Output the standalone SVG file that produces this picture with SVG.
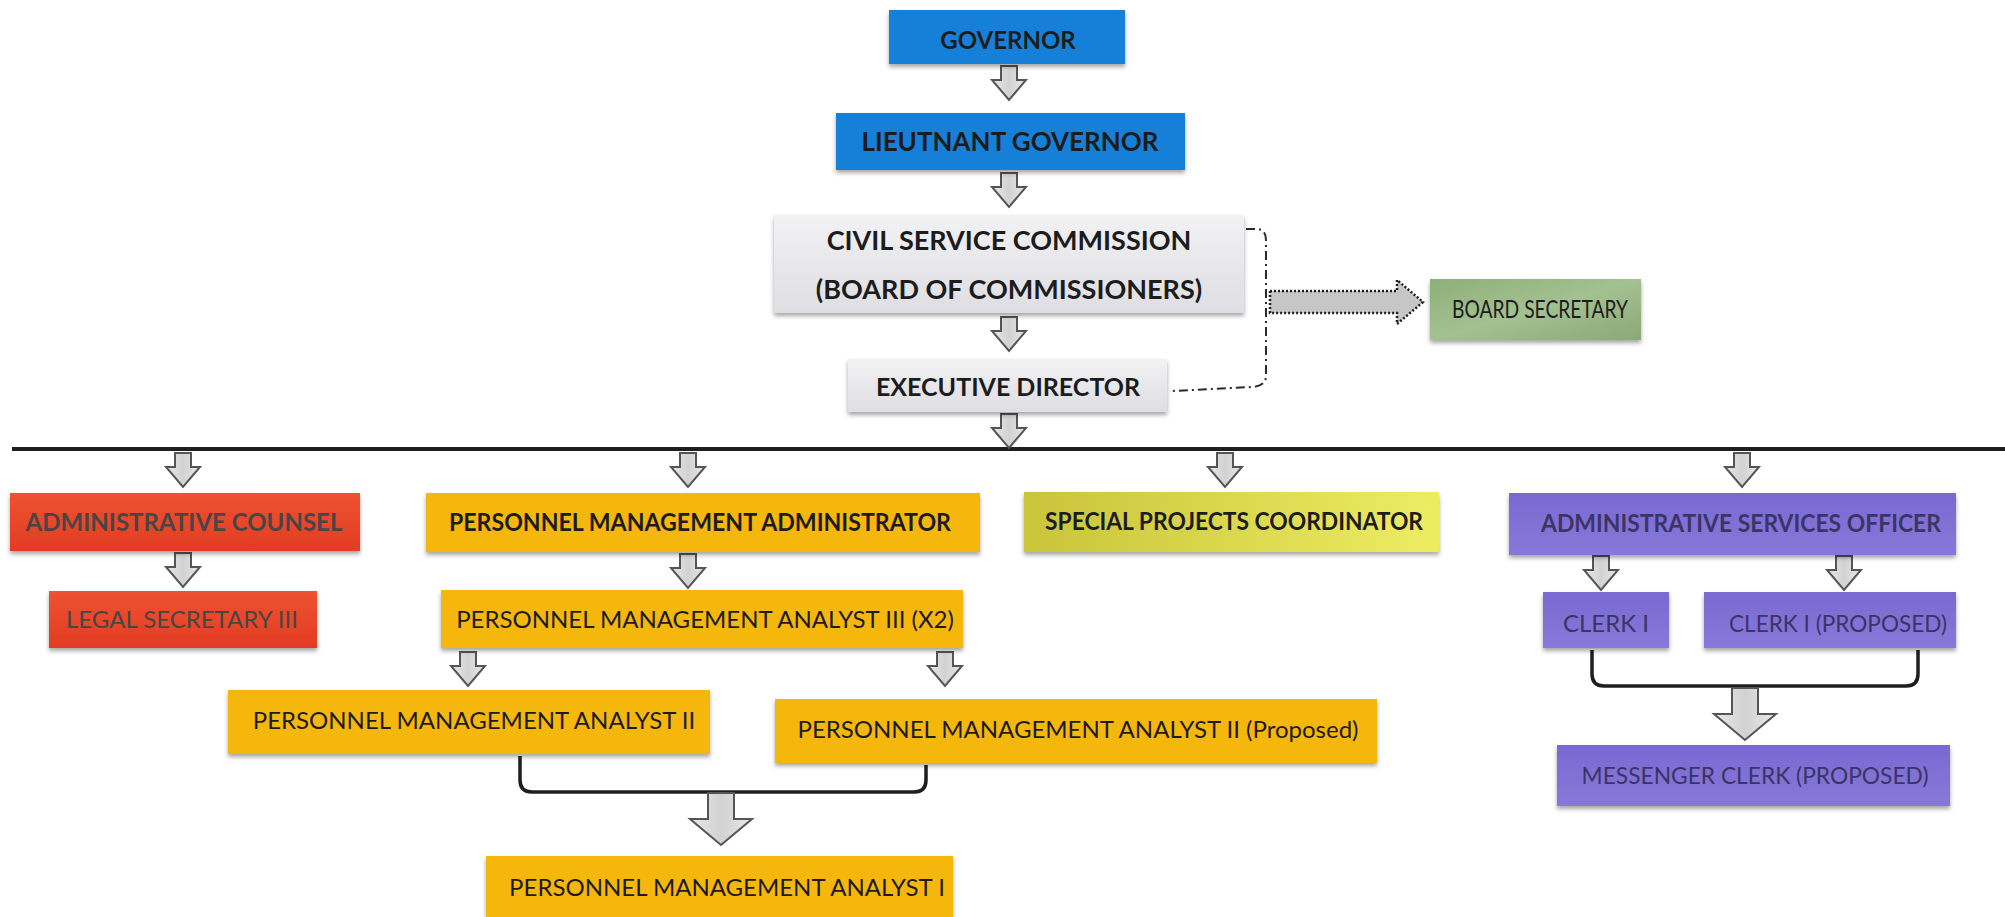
<svg xmlns="http://www.w3.org/2000/svg" xmlns:xlink="http://www.w3.org/1999/xlink" width="2005" height="917" viewBox="0 0 2005 917">
<defs>
  <style>
    .t { font-family: Lato, "Open Sans", "Liberation Sans", sans-serif; font-size: 24px; text-anchor: middle; fill: #1c1c1c; }
    .b { font-weight: bold; }
    .r { font-weight: normal; }
    .dim { fill: #4a4444; }
    .pur { fill: #3b3466; }
    .arr { fill: url(#gArr); stroke: #555; stroke-width: 2; }
    .brk { fill: none; stroke: #1e1e1e; stroke-width: 3.5; stroke-linejoin: round; }
    .box { filter: url(#sh); }
  </style>
  <filter id="sh" x="-5%" y="-10%" width="110%" height="140%">
    <feDropShadow dx="0" dy="3" stdDeviation="2" flood-color="#000" flood-opacity="0.35"/>
  </filter>
  <linearGradient id="gArr" x1="0" y1="0" x2="1" y2="0">
    <stop offset="0" stop-color="#e8e8e8"/>
    <stop offset="0.5" stop-color="#d2d2d2"/>
    <stop offset="1" stop-color="#e8e8e8"/>
  </linearGradient>
  <linearGradient id="gGray" x1="0" y1="0" x2="0" y2="1">
    <stop offset="0" stop-color="#f2f2f4"/>
    <stop offset="1" stop-color="#dedee3"/>
  </linearGradient>
  <linearGradient id="gGreen" x1="0" y1="0" x2="1" y2="1">
    <stop offset="0" stop-color="#8daf78"/>
    <stop offset="0.5" stop-color="#a4c191"/>
    <stop offset="1" stop-color="#8aa976"/>
  </linearGradient>
  <linearGradient id="gRed" x1="0" y1="0" x2="0" y2="1">
    <stop offset="0" stop-color="#ee5230"/>
    <stop offset="1" stop-color="#e23c24"/>
  </linearGradient>
  <linearGradient id="gYel" x1="0" y1="0" x2="1" y2="0">
    <stop offset="0" stop-color="#c9c43a"/>
    <stop offset="1" stop-color="#eeec62"/>
  </linearGradient>
  <linearGradient id="gPur" x1="0" y1="0" x2="0" y2="1">
    <stop offset="0" stop-color="#7a69d2"/>
    <stop offset="1" stop-color="#8878d8"/>
  </linearGradient>
  <path id="sa" d="M-8,0 H8 V14 H17 L0,34 L-17,14 H-8 Z"/>
  <path id="ba" d="M-13,0 H13 V26 H31 L0,52 L-31,26 H-13 Z"/>
</defs>

<rect width="2005" height="917" fill="#ffffff"/>

<g id="connectors">
  <line x1="12" y1="449" x2="2005" y2="449" stroke="#1e1e1e" stroke-width="4"/>
  <use href="#sa" class="arr" x="1009" y="66"/>
  <use href="#sa" class="arr" x="1009" y="173"/>
  <use href="#sa" class="arr" x="1009" y="317"/>
  <use href="#sa" class="arr" x="1009" y="414"/>
  <use href="#sa" class="arr" x="183" y="453"/>
  <use href="#sa" class="arr" x="688" y="453"/>
  <use href="#sa" class="arr" x="1225" y="453"/>
  <use href="#sa" class="arr" x="1742" y="453"/>
  <use href="#sa" class="arr" x="183" y="553"/>
  <use href="#sa" class="arr" x="688" y="554"/>
  <use href="#sa" class="arr" x="468" y="652"/>
  <use href="#sa" class="arr" x="945" y="652"/>
  <use href="#sa" class="arr" x="1601" y="556"/>
  <use href="#sa" class="arr" x="1844" y="556"/>
  <path class="brk" d="M520,756 V780 Q520,792 532,792 H914 Q926,792 926,780 V765"/>
  <use href="#ba" class="arr" x="721" y="793"/>
  <path class="brk" d="M1592,650 V674 Q1592,686 1604,686 H1906 Q1918,686 1918,674 V650"/>
  <use href="#ba" class="arr" x="1745" y="688"/>
  <path d="M1246,229 H1256 Q1266,229 1266,240 V376 Q1266,386 1252,387 L1172,391" fill="none" stroke="#2a2a2a" stroke-width="2" stroke-dasharray="9 4 2 4"/>
  <path d="M1270,291 H1397 V280 L1423,302 L1397,324 V313 H1270 Z" fill="#c6c6c6" stroke="#1e1e1e" stroke-width="2.5" stroke-dasharray="2 2"/>
</g>

<g id="governor">
  <rect class="box" x="889" y="10" width="236" height="54" fill="#1680d8"/>
  <text class="t b" x="1008" y="49">GOVERNOR</text>
</g>
<g id="lieutenant-governor">
  <rect class="box" x="836" y="113" width="349" height="57" fill="#1680d8"/>
  <text class="t b" x="1010" y="151" style="font-size:26px">LIEUTNANT GOVERNOR</text>
</g>
<g id="civil-service-commission">
  <rect class="box" x="774" y="215" width="470" height="98" fill="url(#gGray)"/>
  <text class="t b" x="1009" y="250" style="font-size:27px">CIVIL SERVICE COMMISSION</text>
  <text class="t b" x="1009" y="299" style="font-size:27px">(BOARD OF COMMISSIONERS)</text>
</g>
<g id="executive-director">
  <rect class="box" x="848" y="359" width="319" height="53" fill="url(#gGray)"/>
  <text class="t b" x="1008" y="396" style="font-size:25px">EXECUTIVE DIRECTOR</text>
</g>
<g id="board-secretary">
  <rect class="box" x="1430" y="279" width="211" height="61" fill="url(#gGreen)"/>
  <text class="t r" x="1540" y="318" style="font-size:25px" textLength="176" lengthAdjust="spacingAndGlyphs">BOARD SECRETARY</text>
</g>

<g id="administrative-counsel">
  <rect class="box" x="10" y="493" width="350" height="58" fill="url(#gRed)"/>
  <text class="t b dim" x="184" y="531">ADMINISTRATIVE COUNSEL</text>
</g>
<g id="legal-secretary">
  <rect class="box" x="49" y="591" width="268" height="57" fill="url(#gRed)"/>
  <text class="t r dim" x="182" y="628">LEGAL SECRETARY III</text>
</g>

<g id="pm-administrator">
  <rect class="box" x="426" y="493" width="554" height="59" fill="#f6b70a"/>
  <text class="t b" x="700" y="531" textLength="502" lengthAdjust="spacingAndGlyphs">PERSONNEL MANAGEMENT ADMINISTRATOR</text>
</g>
<g id="pm-analyst-3">
  <rect class="box" x="441" y="590" width="522" height="58" fill="#f6b70a"/>
  <text class="t r" x="705" y="628">PERSONNEL MANAGEMENT ANALYST III (X2)</text>
</g>
<g id="pm-analyst-2">
  <rect class="box" x="228" y="690" width="482" height="64" fill="#f6b70a"/>
  <text class="t r" x="474" y="729">PERSONNEL MANAGEMENT ANALYST II</text>
</g>
<g id="pm-analyst-2-proposed">
  <rect class="box" x="775" y="699" width="602" height="64" fill="#f6b70a"/>
  <text class="t r" x="1078" y="738">PERSONNEL MANAGEMENT ANALYST II (Proposed)</text>
</g>
<g id="pm-analyst-1">
  <rect class="box" x="486" y="856" width="467" height="61" fill="#f6b70a"/>
  <text class="t r" x="727" y="896">PERSONNEL MANAGEMENT ANALYST I</text>
</g>

<g id="special-projects">
  <rect class="box" x="1024" y="492" width="415" height="60" fill="url(#gYel)"/>
  <text class="t b" x="1234" y="530" textLength="378" lengthAdjust="spacingAndGlyphs">SPECIAL PROJECTS COORDINATOR</text>
</g>

<g id="admin-services-officer">
  <rect class="box" x="1509" y="493" width="447" height="62" fill="url(#gPur)"/>
  <text class="t b pur" x="1741" y="532" textLength="400" lengthAdjust="spacingAndGlyphs">ADMINISTRATIVE SERVICES OFFICER</text>
</g>
<g id="clerk-1">
  <rect class="box" x="1543" y="592" width="126" height="56" fill="url(#gPur)"/>
  <text class="t r pur" x="1606" y="632">CLERK I</text>
</g>
<g id="clerk-1-proposed">
  <rect class="box" x="1704" y="592" width="252" height="56" fill="url(#gPur)"/>
  <text class="t r pur" x="1838" y="632" textLength="218" lengthAdjust="spacingAndGlyphs">CLERK I (PROPOSED)</text>
</g>
<g id="messenger-clerk">
  <rect class="box" x="1557" y="745" width="393" height="61" fill="url(#gPur)"/>
  <text class="t r pur" x="1755" y="784" textLength="347" lengthAdjust="spacingAndGlyphs">MESSENGER CLERK (PROPOSED)</text>
</g>
</svg>
